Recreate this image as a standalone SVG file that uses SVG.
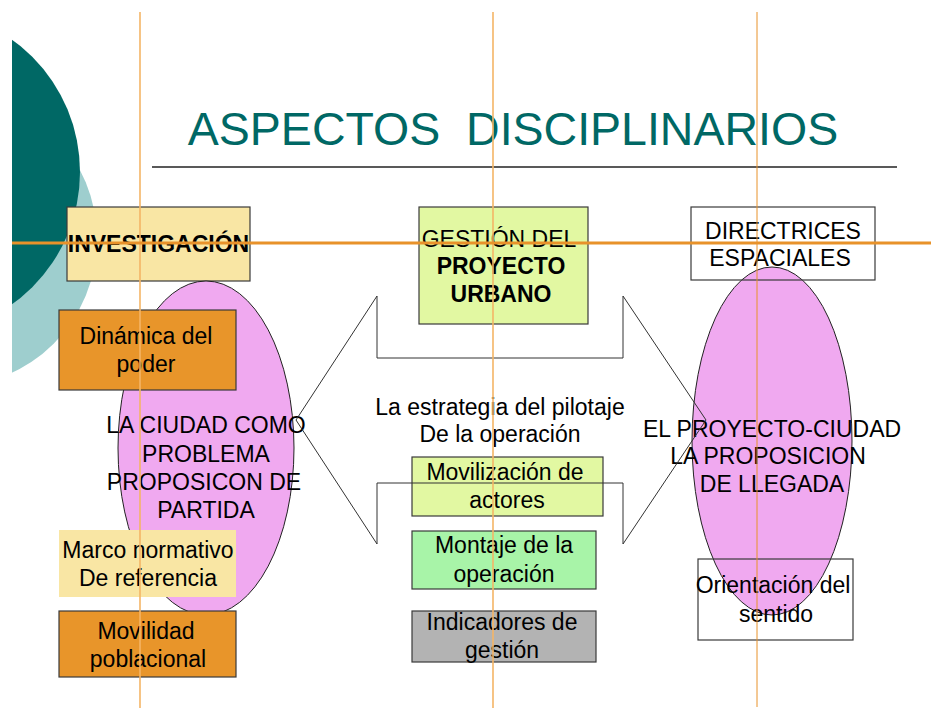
<svg xmlns="http://www.w3.org/2000/svg" width="931" height="708" viewBox="0 0 931 708">
<style>
text{font-family:"Liberation Sans",Arial,sans-serif;font-size:23px;fill:#000;text-anchor:middle}
.b{font-weight:bold}
.box{stroke:#3a3a3a;stroke-width:1.2}
.guide{stroke:#F4B566;stroke-width:1.6;fill:none}
</style>
<rect width="931" height="708" fill="#fff"/>
<g id="decor">
<circle cx="-51" cy="239" r="148" fill="#9ECECE"/>
<circle cx="-83" cy="172" r="163" fill="#006865"/>
<rect x="0" y="0" width="12" height="708" fill="#fff"/>
</g>
<g id="title">
<text x="513" y="145" xml:space="preserve" style="font-size:46.5px;fill:#006865;white-space:pre">ASPECTOS  DISCIPLINARIOS</text>
<line x1="152" y1="167" x2="897" y2="167" stroke="#222" stroke-width="1.5"/>
</g>
<g id="investigacion">
<rect class="box" x="67" y="207" width="183" height="74" fill="#F9E6A4"/>
<text class="b" x="158.5" y="252">INVESTIGACIÓN</text>
</g>
<g id="ciudad-problema">
<ellipse cx="206" cy="448" rx="88" ry="167" fill="#F0A9F0" stroke="#222" stroke-width="1"/>
</g>
<g id="dinamica">
<rect class="box" x="59" y="310" width="177" height="80" fill="#E8952A"/>
<text x="146" y="344">Dinámica del</text>
<text x="146" y="372">poder</text>
</g>
<g id="marco">
<rect x="59" y="530" width="177" height="67" fill="#F9E6A4"/>
<text x="148" y="558">Marco normativo</text>
<text x="148" y="586">De referencia</text>
</g>
<g id="movilidad">
<rect class="box" x="59" y="611" width="177" height="66" fill="#E8952A"/>
<text x="146" y="639">Movilidad</text>
<text x="148" y="667">poblacional</text>
</g>
<g id="ciudad-problema-text">
<text x="206" y="433">LA CIUDAD COMO</text>
<text x="206" y="462">PROBLEMA</text>
<text x="204" y="490">PROPOSICON DE</text>
<text x="206" y="518">PARTIDA</text>
</g>
<g id="gestion">
<rect class="box" x="419" y="207" width="169" height="117" fill="#E2F8A2"/>
<text x="499" y="247">GESTIÓN DEL</text>
<text class="b" x="501" y="274">PROYECTO</text>
<text class="b" x="501" y="302">URBANO</text>
</g>
<g id="estrategia">
<text x="500" y="415">La estrategia del pilotaje</text>
<text x="500" y="442">De la operación</text>
</g>
<g id="movilizacion">
<rect class="box" x="412" y="457" width="191" height="59" fill="#E2F8A2"/>
<text x="505" y="480">Movilización de</text>
<text x="507" y="508">actores</text>
</g>
<g id="montaje">
<rect class="box" x="412" y="531" width="184" height="58" fill="#A8F4A8"/>
<text x="504" y="553">Montaje de la</text>
<text x="504" y="582">operación</text>
</g>
<g id="indicadores">
<rect class="box" x="412" y="611" width="184" height="51" fill="#B3B3B3"/>
<text x="502" y="630">Indicadores de</text>
<text x="502" y="658">gestión</text>
</g>
<g id="proyecto-ciudad">
<ellipse cx="772" cy="441" rx="80" ry="174" fill="#F0A9F0" stroke="#222" stroke-width="1"/>
</g>
<g id="directrices">
<rect class="box" x="691" y="207" width="184" height="73" fill="none"/>
<text x="783" y="239">DIRECTRICES</text>
<text x="780" y="266">ESPACIALES</text>
</g>
<g id="orientacion">
<rect class="box" x="698" y="559" width="155" height="81" fill="none"/>
<text x="773" y="593">Orientación del</text>
<text x="776" y="622">sentido</text>
</g>
<g id="proyecto-ciudad-text">
<text x="772" y="437">EL PROYECTO-CIUDAD</text>
<text x="768" y="464">LA PROPOSICION</text>
<text x="772" y="492">DE LLEGADA</text>
</g>
<g id="connectors">
<polygon points="377,296 377,358 623,358 623,296 706,420 623,544 623,483 377,483 377,544 296,420" fill="none" stroke="#333" stroke-width="1"/>
</g>
<g id="guides">
<line class="guide" x1="140" y1="12" x2="140" y2="708"/>
<line class="guide" x1="493" y1="12" x2="493" y2="708"/>
<line x1="757" y1="12" x2="757" y2="707" stroke="#E8922A" stroke-width="1"/>
<line x1="12" y1="243" x2="931" y2="243" stroke="#E8922A" stroke-width="3"/>
</g>
</svg>
